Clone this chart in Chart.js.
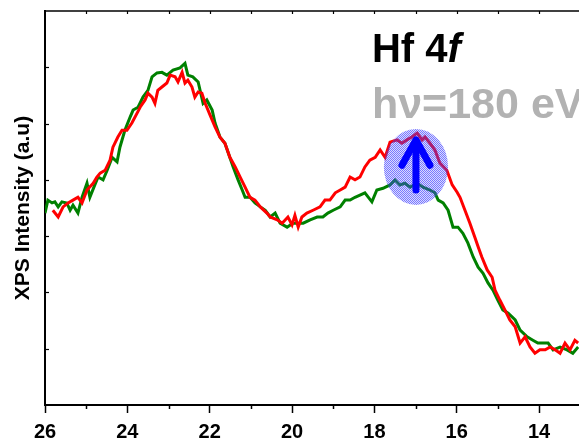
<!DOCTYPE html>
<html>
<head>
<meta charset="utf-8">
<script src="https://cdn.jsdelivr.net/npm/chart.js@4.4.1/dist/chart.umd.min.js"></script>
<style>
  html, body { margin: 0; padding: 0; background: #ffffff; }
  #wrap { width: 579px; height: 439px; }
</style>
</head>
<body>
<div id="wrap"><canvas id="c" width="579" height="439"></canvas></div>
<script>
// ---- data (binding energy in eV, intensity in a.u.) ----
const greenEnergy = [26.00,25.93,25.83,25.76,25.68,25.59,25.47,25.39,25.32,25.20,25.10,24.98,24.91,24.79,24.71,24.59,24.49,24.37,24.25,24.18,24.06,23.93,23.86,23.74,23.62,23.50,23.40,23.28,23.16,23.04,22.89,22.72,22.60,22.53,22.41,22.28,22.16,22.07,21.94,21.87,21.75,21.63,21.55,21.43,21.31,21.21,21.14,21.02,20.90,20.77,20.65,20.53,20.41,20.29,20.12,19.98,19.85,19.73,19.56,19.39,19.25,19.13,19.00,18.83,18.71,18.59,18.47,18.35,18.23,18.06,17.94,17.79,17.62,17.50,17.38,17.26,17.13,16.96,16.82,16.65,16.53,16.45,16.33,16.21,16.09,15.97,15.85,15.73,15.60,15.48,15.36,15.24,15.12,15.00,14.88,14.75,14.58,14.46,14.29,14.15,14.03,13.90,13.78,13.66,13.49,13.32,13.18,13.05];
const greenIntensity = [3.41,3.64,3.59,3.61,3.52,3.61,3.59,3.46,3.55,3.41,3.69,3.94,3.69,3.91,4.05,4.00,4.17,4.40,4.32,4.58,4.88,5.12,5.24,5.29,5.47,5.59,5.83,5.90,5.91,5.86,5.95,5.99,6.07,5.86,5.83,5.74,5.36,5.42,5.24,5.01,4.76,4.65,4.48,4.23,4.00,3.82,3.69,3.69,3.59,3.52,3.46,3.34,3.41,3.23,3.16,3.23,3.23,3.23,3.29,3.34,3.34,3.41,3.46,3.52,3.64,3.64,3.69,3.73,3.77,3.61,3.82,3.85,3.91,4.00,3.91,3.94,3.87,3.94,3.87,3.82,3.77,3.64,3.59,3.46,3.16,3.16,3.05,2.88,2.63,2.45,2.34,2.17,2.04,1.86,1.69,1.63,1.51,1.33,1.21,1.15,1.10,1.10,1.10,0.98,1.03,0.98,0.92,1.03];

const redEnergy = [25.81,25.68,25.56,25.44,25.32,25.20,25.10,24.98,24.83,24.74,24.66,24.54,24.42,24.35,24.23,24.13,24.01,23.89,23.76,23.69,23.57,23.50,23.40,23.33,23.26,23.16,23.04,22.96,22.84,22.77,22.67,22.60,22.53,22.43,22.36,22.28,22.19,22.11,21.99,21.87,21.75,21.63,21.51,21.38,21.26,21.14,21.02,20.90,20.77,20.61,20.53,20.36,20.24,20.10,20.00,19.93,19.85,19.76,19.64,19.49,19.32,19.20,19.08,18.95,18.83,18.71,18.59,18.47,18.35,18.23,18.11,17.98,17.86,17.74,17.62,17.45,17.33,17.21,17.09,16.96,16.84,16.77,16.65,16.53,16.41,16.24,16.11,15.99,15.92,15.80,15.68,15.56,15.48,15.39,15.26,15.14,15.07,14.95,14.83,14.71,14.58,14.46,14.34,14.22,14.10,13.98,13.85,13.73,13.61,13.49,13.37,13.25,13.13,13.05];
const redIntensity = [3.46,3.34,3.52,3.59,3.64,3.69,3.59,3.82,3.94,4.05,4.12,4.17,4.35,4.58,4.76,4.88,4.88,5.01,5.19,5.29,5.42,5.54,5.47,5.36,5.59,5.65,5.72,5.86,5.83,5.74,5.91,5.72,5.77,5.65,5.47,5.56,5.54,5.36,5.15,4.94,4.76,4.65,4.40,4.23,4.05,3.87,3.69,3.64,3.52,3.41,3.34,3.29,3.23,3.34,3.20,3.37,3.16,3.34,3.41,3.46,3.52,3.64,3.64,3.77,3.82,3.87,4.05,4.00,4.05,4.23,4.35,4.40,4.53,4.40,4.67,4.71,4.65,4.71,4.76,4.83,4.71,4.76,4.65,4.53,4.30,4.17,3.91,3.78,3.69,3.46,3.23,2.98,2.81,2.63,2.40,2.27,2.04,1.86,1.69,1.51,1.39,1.10,1.21,1.03,0.92,0.98,0.98,1.03,0.98,0.92,1.10,0.98,1.15,1.10];

const xTickLabels = [26, 24, 22, 20, 18, 16, 14];
const xMinorTicks = [25, 23, 21, 19, 17, 15, 13];
const yTickValues = [1, 2, 3, 4, 5, 6];
const xRange = [13.03, 26];
const yRange = [0, 7];

const titleText = 'Hf 4';
const titleItalic = 'f';
const subtitleText = 'h\u03bd=180 eV';
const yAxisTitle = 'XPS Intensity (a.u)';

// annotation anchors in data units
const textAnchor = { x: 18.06, y1: 6.09, y2: 5.10 };
const circle = { x: 16.99, y: 4.23, rx: 0.78, ry: 0.675 };
const arrow = { x: 16.99, yTail: 3.82, yTip: 4.71, yWing: 4.26, wingHalf: 0.34 };

const FONT = "'Liberation Sans', Arial, Helvetica, sans-serif";

function pts(xs, ys) { return xs.map((x, i) => ({ x: x, y: ys[i] })); }

const frame = {
  id: 'frame',
  afterDraw(chart) {
    const ctx = chart.ctx, a = chart.chartArea;
    const xs = chart.scales.x, ys = chart.scales.y;
    ctx.save();
    ctx.strokeStyle = '#000';
    ctx.lineWidth = 1.5;
    ctx.beginPath(); ctx.moveTo(a.left, a.top); ctx.lineTo(a.right, a.top); ctx.stroke();
    ctx.lineWidth = 1.2;
    [...xTickLabels, ...xMinorTicks].forEach(v => {
      const px = Math.round(xs.getPixelForValue(v)) + 0.5;
      if (px < a.left + 1 || px > a.right) return;
      ctx.beginPath(); ctx.moveTo(px, a.top); ctx.lineTo(px, a.top + 3); ctx.stroke();
    });
    ctx.lineWidth = 1.5;
    xMinorTicks.forEach(v => {
      const px = Math.round(xs.getPixelForValue(v)) + 0.5;
      if (px > a.right) return;
      ctx.beginPath(); ctx.moveTo(px, a.bottom); ctx.lineTo(px, a.bottom + 4); ctx.stroke();
    });
    ctx.lineWidth = 1.2;
    yTickValues.forEach(v => {
      const py = Math.round(ys.getPixelForValue(v)) + 0.5;
      ctx.beginPath(); ctx.moveTo(a.left, py); ctx.lineTo(a.left + 4, py); ctx.stroke();
    });
    ctx.restore();
  }
};

const overlay = {
  id: 'overlay',
  afterDatasetsDraw(chart) {
    const ctx = chart.ctx;
    const xs = chart.scales.x, ys = chart.scales.y;
    ctx.save();
    const pc = document.createElement('canvas');
    pc.width = 2; pc.height = 2;
    const p = pc.getContext('2d');
    p.fillStyle = 'rgba(40,40,255,0.62)';
    p.fillRect(0, 0, 1, 1); p.fillRect(1, 1, 1, 1);
    p.fillStyle = 'rgba(120,120,255,0.28)';
    p.fillRect(1, 0, 1, 1); p.fillRect(0, 1, 1, 1);
    const cx = xs.getPixelForValue(circle.x), cy = ys.getPixelForValue(circle.y);
    const rx = Math.abs(xs.getPixelForValue(circle.x + circle.rx) - cx);
    const ry = Math.abs(ys.getPixelForValue(circle.y + circle.ry) - cy);
    ctx.fillStyle = ctx.createPattern(pc, 'repeat');
    ctx.beginPath(); ctx.ellipse(cx, cy, rx, ry, 0, 0, Math.PI * 2); ctx.fill();
    const ax = xs.getPixelForValue(arrow.x);
    const tail = ys.getPixelForValue(arrow.yTail);
    const tip = ys.getPixelForValue(arrow.yTip);
    const wing = ys.getPixelForValue(arrow.yWing);
    const wl = xs.getPixelForValue(arrow.x + arrow.wingHalf);
    const wr = xs.getPixelForValue(arrow.x - arrow.wingHalf);
    ctx.strokeStyle = '#0000ff';
    ctx.lineWidth = 7;
    ctx.lineCap = 'round';
    ctx.lineJoin = 'round';
    ctx.beginPath(); ctx.moveTo(ax, tail); ctx.lineTo(ax, tip + 3); ctx.stroke();
    ctx.beginPath(); ctx.moveTo(wl, wing); ctx.lineTo(ax, tip); ctx.lineTo(wr, wing); ctx.stroke();
    const tx = xs.getPixelForValue(textAnchor.x);
    ctx.textBaseline = 'alphabetic';
    ctx.textAlign = 'left';
    ctx.fillStyle = '#000';
    ctx.font = 'bold 40px ' + FONT;
    const ty1 = ys.getPixelForValue(textAnchor.y1);
    ctx.fillText(titleText, tx, ty1);
    const w = ctx.measureText(titleText).width;
    ctx.font = 'italic bold 40px ' + FONT;
    ctx.fillText(titleItalic, tx + w, ty1);
    ctx.fillStyle = '#b2b2b2';
    ctx.font = 'bold 43px ' + FONT;
    ctx.fillText(subtitleText, tx, ys.getPixelForValue(textAnchor.y2));
    ctx.restore();
  }
};

new Chart(document.getElementById('c'), {
  type: 'line',
  data: {
    datasets: [
      { label: 'after', data: pts(redEnergy, redIntensity), borderColor: '#ff0000', borderWidth: 3, pointRadius: 0, tension: 0, fill: false, order: 0 },
      { label: 'before', data: pts(greenEnergy, greenIntensity), borderColor: '#008000', borderWidth: 3, pointRadius: 0, tension: 0, fill: false, order: 1 }
    ]
  },
  options: {
    responsive: false,
    animation: false,
    events: [],
    layout: { padding: { top: 11, right: 0, bottom: 0, left: 0 } },
    plugins: { legend: { display: false }, tooltip: { enabled: false } },
    scales: {
      x: {
        type: 'linear',
        reverse: true,
        min: xRange[0],
        max: xRange[1],
        afterBuildTicks: (s) => { s.ticks = xTickLabels.map(v => ({ value: v })); },
        afterFit: (s) => { s.height = 34; },
        ticks: { color: '#000', font: { family: FONT, size: 20, weight: 'bold' }, padding: 7, maxRotation: 0, autoSkip: false, callback: (v) => String(v) },
        grid: { drawOnChartArea: false, drawTicks: true, tickLength: 8, tickWidth: 1.5, tickColor: '#000' },
        border: { display: true, color: '#000', width: 2 }
      },
      y: {
        type: 'linear',
        min: yRange[0],
        max: yRange[1],
        afterFit: (s) => { s.width = 45; },
        ticks: { display: false },
        grid: { drawOnChartArea: false, drawTicks: false },
        border: { display: true, color: '#000', width: 2 },
        title: { display: true, text: yAxisTitle, color: '#000', font: { family: FONT, size: 21, weight: 'bold' }, padding: { top: 11, bottom: 0 } }
      }
    }
  },
  plugins: [frame, overlay]
});
</script>
</body>
</html>
